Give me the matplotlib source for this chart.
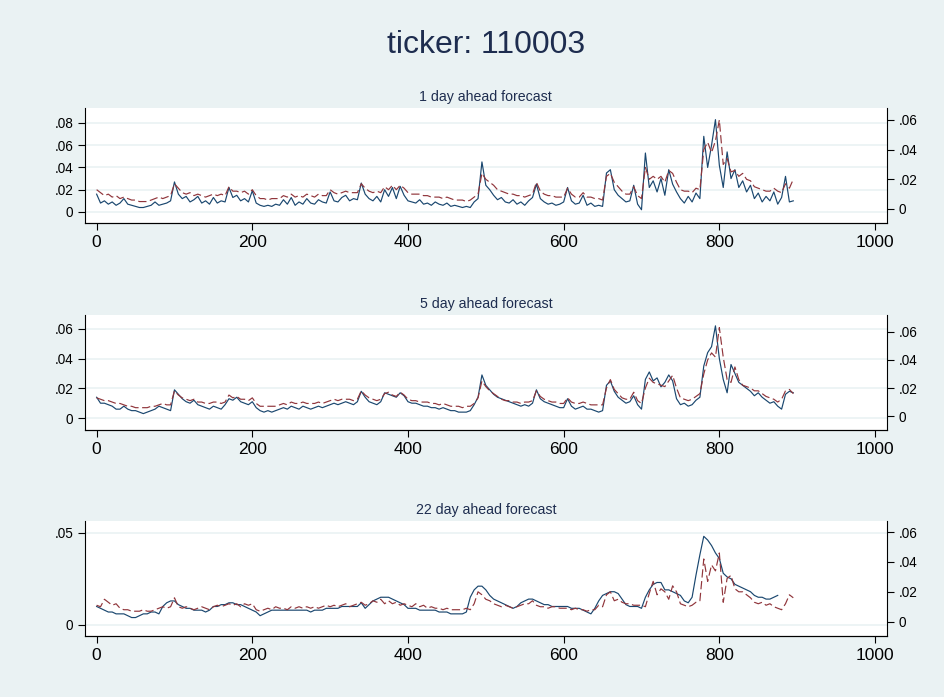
import numpy as np
import matplotlib
matplotlib.use('Agg')
import matplotlib.pyplot as plt
from matplotlib.ticker import FuncFormatter

plt.rcParams['font.family'] = ['Liberation Sans', 'DejaVu Sans']

# day index of the observations (every 5th day)
days = np.arange(0, 900, 5)

# values are in thousandths, blue = actual (left axis), red = forecast (right axis)
actual_1 = [16, 8, 10, 7, 9, 6, 8, 12, 7, 6, 5, 4, 4, 5, 6, 9, 6, 7, 8, 10,
            27, 16, 12, 14, 9, 11, 14, 8, 10, 7, 13, 8, 10, 9, 22, 13, 15, 10, 12, 9,
            19, 8, 6, 5, 6, 5, 7, 6, 11, 7, 13, 6, 9, 7, 12, 8, 7, 11, 9, 8,
            18, 10, 9, 13, 15, 10, 12, 11, 26, 16, 12, 10, 14, 9, 20, 14, 22, 12, 23, 15,
            10, 9, 8, 11, 7, 8, 6, 9, 7, 6, 8, 5, 6, 5, 4, 5, 4, 9, 12, 45,
            24, 20, 15, 11, 13, 9, 8, 11, 7, 9, 6, 10, 13, 25, 12, 9, 7, 8, 6, 7,
            9, 22, 10, 7, 8, 15, 6, 8, 5, 6, 5, 35, 38, 20, 15, 12, 9, 10, 24, 7,
            2, 53, 22, 28, 18, 30, 15, 38, 25, 18, 12, 8, 14, 9, 17, 12, 68, 40, 60, 83,
            42, 22, 54, 30, 38, 22, 28, 18, 24, 12, 17, 9, 14, 10, 18, 7, 13, 32, 9, 10]
forecast_1 = [13, 11, 9, 10, 8, 9, 7, 8, 7, 6, 6, 5, 5, 5, 6, 7, 8, 7, 8, 9,
              17, 14, 11, 10, 11, 9, 10, 9, 8, 9, 10, 9, 10, 9, 15, 12, 12, 11, 12, 10,
              13, 9, 7, 7, 6, 7, 7, 7, 9, 8, 10, 8, 9, 8, 10, 9, 8, 10, 9, 9,
              13, 11, 10, 11, 12, 11, 11, 11, 17, 14, 12, 11, 12, 11, 15, 13, 16, 13, 16, 14,
              11, 10, 10, 10, 9, 9, 8, 8, 8, 7, 8, 7, 6, 6, 6, 5, 6, 8, 10, 24,
              20, 18, 16, 13, 12, 11, 10, 10, 9, 9, 8, 9, 10, 18, 12, 10, 9, 9, 8, 8,
              8, 14, 10, 8, 8, 11, 8, 8, 7, 7, 6, 22, 24, 18, 15, 12, 10, 10, 15, 9,
              7, 28, 20, 22, 20, 22, 18, 26, 24, 18, 13, 12, 12, 11, 14, 13, 40, 45, 38, 46,
              60, 30, 34, 25, 26, 22, 24, 20, 19, 15, 14, 13, 12, 12, 14, 12, 11, 17, 14, 20]

actual_5 = [14, 10, 10, 9, 8, 6, 6, 8, 6, 5, 5, 4, 3, 4, 5, 6, 8, 7, 6, 5,
            19, 16, 13, 11, 10, 12, 9, 8, 7, 6, 8, 7, 6, 9, 13, 12, 14, 11, 10, 9,
            11, 7, 5, 4, 5, 4, 5, 6, 7, 6, 8, 7, 6, 8, 7, 6, 7, 8, 7, 8,
            9, 10, 9, 10, 11, 10, 9, 11, 18, 14, 11, 10, 9, 11, 17, 16, 15, 14, 17, 15,
            11, 10, 10, 9, 8, 8, 7, 7, 6, 7, 6, 5, 5, 4, 4, 4, 5, 9, 14, 29,
            22, 19, 16, 14, 13, 12, 11, 10, 9, 8, 9, 8, 10, 19, 13, 11, 10, 9, 8, 7,
            7, 13, 8, 6, 7, 8, 6, 6, 5, 4, 5, 22, 25, 18, 14, 12, 10, 11, 15, 9,
            6, 26, 31, 25, 27, 21, 24, 29, 25, 13, 9, 10, 8, 9, 12, 14, 35, 44, 48, 62,
            40, 26, 17, 36, 30, 24, 22, 20, 18, 15, 17, 14, 12, 10, 11, 8, 6, 16, 18, 17]
forecast_5 = [13, 12, 11, 11, 10, 9, 9, 8, 7, 7, 6, 6, 6, 6, 7, 7, 8, 9, 8, 8,
              18, 15, 13, 12, 11, 12, 10, 10, 9, 9, 10, 10, 9, 10, 15, 13, 14, 12, 12, 11,
              13, 9, 7, 7, 7, 7, 7, 8, 9, 8, 10, 9, 9, 10, 9, 9, 9, 10, 9, 10,
              11, 12, 11, 12, 12, 12, 11, 12, 18, 15, 13, 12, 11, 12, 16, 17, 15, 14, 17, 15,
              12, 11, 11, 10, 10, 10, 9, 9, 8, 9, 8, 7, 7, 7, 6, 7, 7, 9, 13, 25,
              21, 18, 16, 14, 12, 11, 11, 10, 10, 9, 10, 10, 11, 18, 14, 12, 11, 10, 10, 9,
              9, 13, 10, 9, 9, 10, 9, 8, 8, 8, 8, 20, 26, 19, 16, 13, 12, 12, 17, 11,
              9, 20, 27, 24, 23, 22, 21, 25, 29, 20, 13, 12, 11, 12, 14, 16, 30, 40, 45, 42,
              63, 42, 26, 24, 35, 26, 22, 21, 20, 18, 18, 16, 14, 13, 12, 10, 12, 18, 19, 16]

actual_22 = [10, 9, 8, 7, 7, 6, 6, 6, 5, 4, 4, 5, 6, 6, 7, 7, 6, 10, 12, 13,
             13, 11, 10, 9, 9, 8, 8, 8, 7, 8, 10, 10, 11, 11, 12, 12, 11, 11, 10, 9,
             8, 7, 5, 6, 7, 8, 8, 8, 8, 8, 8, 8, 8, 8, 8, 7, 8, 8, 8, 9,
             9, 9, 9, 10, 10, 10, 10, 10, 12, 9, 11, 13, 14, 15, 15, 15, 14, 13, 12, 11,
             9, 9, 9, 8, 8, 8, 8, 8, 7, 7, 7, 6, 6, 6, 6, 7, 15, 19, 21, 21,
             19, 16, 14, 13, 12, 11, 10, 9, 10, 12, 13, 14, 14, 13, 12, 11, 11, 10, 10, 10,
             10, 10, 9, 9, 9, 8, 7, 6, 9, 13, 16, 17, 18, 18, 17, 14, 11, 10, 10, 10,
             9, 15, 19, 22, 23, 23, 19, 19, 18, 17, 16, 13, 12, 15, 27, 38, 48, 46, 43, 39,
             36, 28, 26, 25, 22, 21, 20, 19, 18, 16, 15, 15, 14, 14, 15, 16]
forecast_22 = [11, 10, 15, 13, 11, 12, 9, 8, 8, 7, 7, 7, 8, 7, 7, 8, 9, 10, 9, 10,
               16, 10, 9, 10, 9, 8, 9, 10, 9, 8, 10, 11, 10, 11, 12, 11, 12, 10, 12, 11,
               12, 8, 7, 8, 9, 8, 10, 9, 9, 8, 10, 9, 10, 9, 10, 9, 10, 9, 10, 11,
               10, 11, 10, 11, 12, 10, 11, 12, 13, 11, 12, 14, 13, 15, 12, 14, 12, 13, 11, 12,
               11, 10, 12, 10, 11, 9, 10, 9, 9, 8, 9, 8, 8, 8, 8, 9, 8, 12, 20, 18,
               15, 14, 12, 11, 10, 11, 10, 9, 10, 11, 12, 12, 14, 11, 10, 10, 9, 10, 10, 9,
               9, 9, 8, 9, 8, 8, 7, 8, 8, 11, 10, 18, 20, 14, 15, 13, 12, 12, 11, 11,
               11, 10, 19, 27, 18, 22, 20, 15, 24, 20, 12, 11, 10, 11, 13, 14, 42, 27, 38, 34,
               46, 13, 29, 31, 22, 20, 20, 18, 16, 13, 12, 13, 11, 12, 10, 9, 8, 12, 18, 16]

panels = [
    ('1 day ahead forecast', actual_1, forecast_1,
     (-0.0099, 0.0935), (-0.00944, 0.0681), [0, .02, .04, .06, .08]),
    ('5 day ahead forecast', actual_5, forecast_5,
     (-0.008, 0.0693), (-0.00988, 0.072), [0, .02, .04, .06]),
    ('22 day ahead forecast', actual_22, forecast_22,
     (-0.006, 0.0563), (-0.0096, 0.0674), [0, .05]),
]
right_ticks = [0, .02, .04, .06]
x_ticks = [0, 200, 400, 600, 800, 1000]

bg = '#EAF2F3'
navy = '#1A476F'
maroon = '#90353B'
txt = '#1E2D4F'


def stata_fmt(v, pos):
    if abs(v) < 1e-12:
        return '0'
    s = ('%.2f' % v).rstrip('0')
    return s.replace('0.', '.', 1)


fig = plt.figure(figsize=(9.45, 6.97), dpi=100, facecolor=bg)
fig.text(0.514, 0.935, 'ticker: 110003', ha='center', va='center',
         fontsize=23, color=txt)

bottoms = [0.6801, 0.3831, 0.0875]
for (title, act, fc, ylim_l, ylim_r, lticks), b in zip(panels, bottoms):
    ax = fig.add_axes([0.0899, b, 0.8484, 0.165])
    ax.set_facecolor('white')
    ax.plot(days[:len(act)], np.array(act) / 1000.0, color=navy, lw=0.85, zorder=3)
    ax.set_xlim(-15, 1015)
    ax.set_ylim(*ylim_l)
    ax.set_yticks(lticks)
    ax.yaxis.set_major_formatter(FuncFormatter(stata_fmt))
    ax.set_xticks(x_ticks)
    ax.grid(axis='y', color=bg, lw=1.2, zorder=0)
    ax.set_axisbelow(True)
    ax.spines['top'].set_visible(False)
    ax.spines['right'].set_visible(False)
    ax.tick_params(axis='x', labelsize=12.5, length=5, width=0.8, colors='black')
    ax.tick_params(axis='y', labelsize=9.8, length=5, width=0.8, colors='black')
    ax.set_title(title, fontsize=10.2, color=txt, pad=5)

    ax2 = ax.twinx()
    ax2.plot(days[:len(fc)], np.array(fc) / 1000.0, color=maroon, lw=0.85,
             dashes=(7, 3))
    ax2.set_ylim(*ylim_r)
    ax2.set_yticks(right_ticks)
    ax2.yaxis.set_major_formatter(FuncFormatter(stata_fmt))
    ax2.spines['top'].set_visible(False)
    ax2.spines['left'].set_visible(False)
    ax2.tick_params(axis='y', labelsize=9.8, length=5, width=0.8, colors='black')

fig.savefig('out.png', dpi=100, facecolor=bg)
